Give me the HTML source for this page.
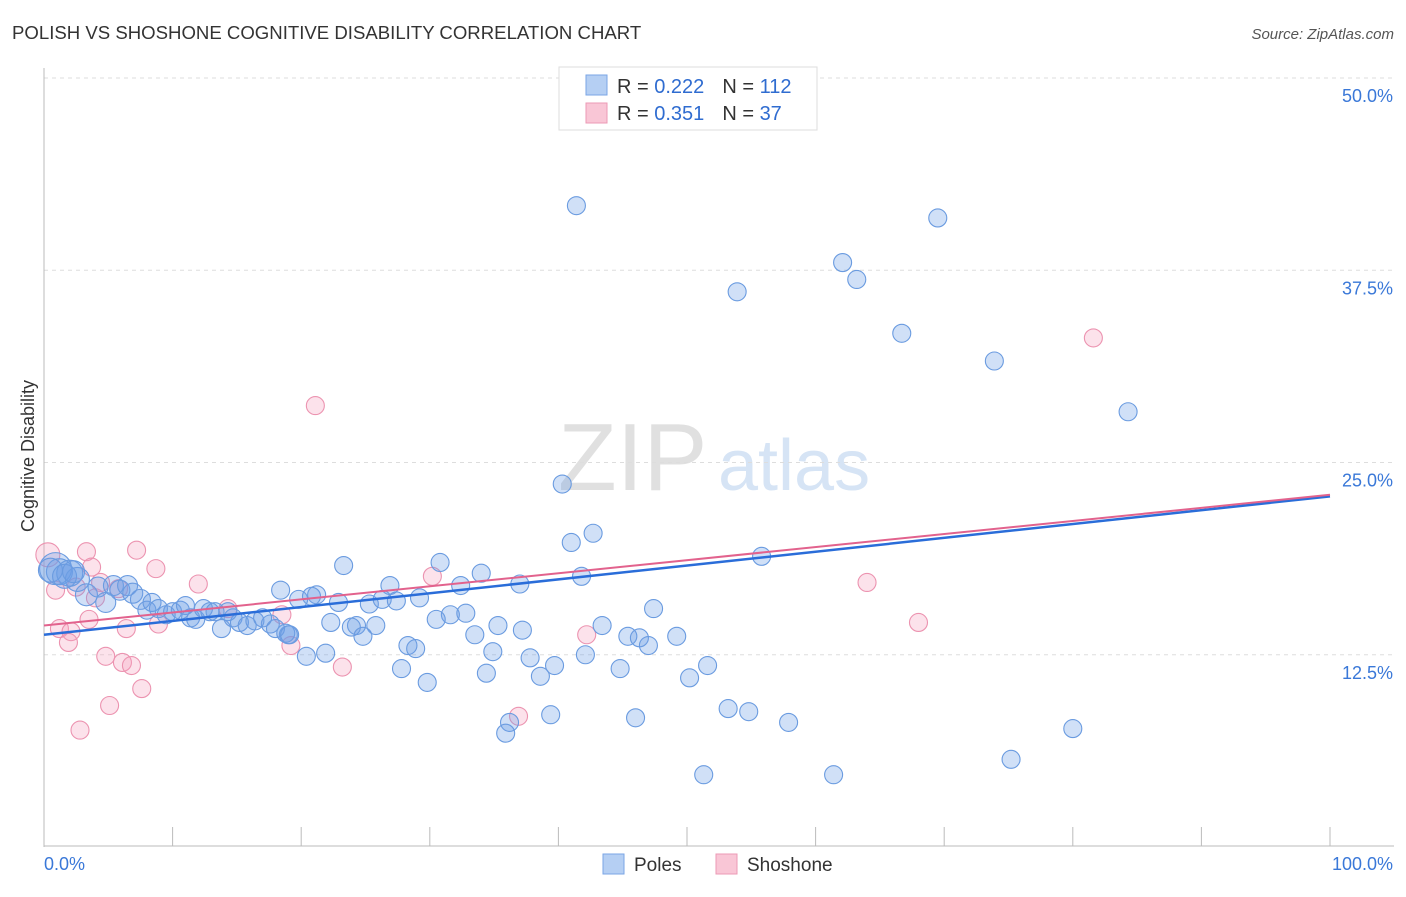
<!DOCTYPE html>
<html><head><meta charset="utf-8"><style>
body{margin:0;background:#fff;font-family:"Liberation Sans",sans-serif;}
svg text{font-family:"Liberation Sans",sans-serif;}
</style></head><body>
<svg id="chart" width="1406" height="892" xmlns="http://www.w3.org/2000/svg">
<text x="12" y="39" font-size="18.6" fill="#333">POLISH VS SHOSHONE COGNITIVE DISABILITY CORRELATION CHART</text>
<text x="1394" y="39" font-size="15" fill="#555" font-style="italic" text-anchor="end">Source: ZipAtlas.com</text>
<text x="558" y="490" font-size="96" fill="#e0e0e0" font-family="Liberation Serif">ZIP</text>
<text x="718" y="490" font-size="72" fill="#d6e4f5">atlas</text>
<text transform="translate(34,456) rotate(-90)" font-size="18" fill="#333" text-anchor="middle">Cognitive Disability</text>
<g id="grid"></g><g id="axes"></g><g id="marks"></g><g id="lines"></g>
<g>
<rect x="559" y="67" width="258" height="63" fill="#fff" stroke="#ddd"/>
<rect x="586" y="75" width="21" height="20" fill="#b5cff3" stroke="#7aa5e6"/>
<rect x="586" y="103" width="21" height="20" fill="#f9c6d6" stroke="#ec9ab5"/>
<text x="617" y="93" font-size="20" fill="#333">R = <tspan fill="#2f6cd0">0.222</tspan><tspan dx="18">N = </tspan><tspan fill="#2f6cd0">112</tspan></text>
<text x="617" y="120" font-size="20" fill="#333">R = <tspan fill="#2f6cd0">0.351</tspan><tspan dx="18">N = </tspan><tspan fill="#2f6cd0"> 37</tspan></text>
</g>
<g>
<rect x="603" y="854" width="21" height="20" fill="#b5cff3" stroke="#7aa5e6"/>
<text x="634" y="871" font-size="19" fill="#333">Poles</text>
<rect x="716" y="854" width="21" height="20" fill="#f9c6d6" stroke="#ec9ab5"/>
<text x="747" y="871" font-size="19" fill="#333">Shoshone</text>
</g>
</svg>
<script>
const yTicks=[12.5,25,37.5,50];
const yTickLabels=["12.5%","25.0%","37.5%","50.0%"];
const xTickCount=[0,10,20,30,40,50,60,70,80,90,100];
const xEndLabels=["0.0%","100.0%"];
const polesX=[41.4,69.5,53.9,62.1,63.2,66.7,73.9,84.3,40.3,41.0,42.7,55.8,23.3,30.8,41.8,34.0,37.0,32.4,26.9,18.4,21.2,19.8,20.8,22.9,25.3,26.3,27.4,29.2,47.4,32.8,31.6,30.5,43.4,35.3,37.2,22.3,24.3,23.9,25.8,33.5,24.8,45.4,46.3,47.0,49.2,19.0,28.3,28.9,21.9,20.4,34.9,37.8,42.1,39.7,27.8,34.4,38.6,44.8,51.6,50.2,29.8,53.2,54.8,57.9,39.4,46.0,80.0,36.2,35.9,51.3,61.4,75.2,0.9,1.2,2.0,2.6,3.3,4.2,4.8,5.4,5.9,6.5,6.9,7.5,8.0,8.4,8.9,9.5,10.0,10.6,11.0,11.4,11.8,12.4,12.9,13.3,13.8,14.3,14.7,15.2,15.8,16.4,17.0,17.6,18.0,18.8,19.1,0.5,1.6,2.3];
const polesY=[41.7,40.9,36.1,38.0,36.9,33.4,31.6,28.3,23.6,19.8,20.4,18.9,18.3,18.5,17.6,17.8,17.1,17.0,17.0,16.7,16.4,16.1,16.3,15.9,15.8,16.1,16.0,16.2,15.5,15.2,15.1,14.8,14.4,14.4,14.1,14.6,14.4,14.3,14.4,13.8,13.7,13.7,13.6,13.1,13.7,13.8,13.1,12.9,12.6,12.4,12.7,12.3,12.5,11.8,11.6,11.3,11.1,11.6,11.8,11.0,10.7,9.0,8.8,8.1,8.6,8.4,7.7,8.1,7.4,4.7,4.7,5.7,18.1,17.9,17.8,17.4,16.4,16.9,15.9,17.0,16.7,17.0,16.5,16.1,15.4,15.9,15.5,15.1,15.3,15.4,15.7,14.9,14.8,15.5,15.3,15.3,14.2,15.3,14.9,14.6,14.4,14.7,14.9,14.5,14.2,13.9,13.8,18.0,17.6,17.9];
const polesR=[9,9,9,9,9,9,9,9,9,9,9,9,9,9,9,9,9,9,9,9,9,9,9,9,9,9,9,9,9,9,9,9,9,9,9,9,9,9,9,9,9,9,9,9,9,9,9,9,9,9,9,9,9,9,9,9,9,9,9,9,9,9,9,9,9,9,9,9,9,9,9,9,16,13,13,12,11,10,10,10,10,10,10,10,9,9,9,9,9,9,9,9,9,9,9,9,9,9,9,9,9,9,9,9,9,9,9,12,12,11];
const shoX=[21.1,81.6,30.2,64.0,68.0,42.2,7.2,8.7,3.3,3.7,0.3,0.9,2.5,4.0,4.4,5.8,12.0,14.3,1.2,2.1,1.9,3.5,6.4,8.9,4.8,6.1,6.8,7.6,5.1,2.8,36.9,23.2,19.2,18.5];
const shoY=[28.7,33.1,17.6,17.2,14.6,13.8,19.3,18.1,19.2,18.2,19.0,16.7,16.9,16.2,17.2,16.8,17.1,15.5,14.2,14.0,13.3,14.8,14.2,14.5,12.4,12.0,11.8,10.3,9.2,7.6,8.5,11.7,13.1,15.1];
const trendPolesY=[13.8,22.8];
const trendShoY=[14.4,22.9];
const NS="http://www.w3.org/2000/svg";
const X=v=>44+v*12.86, Y=v=>847-v*15.38;
function mk(tag,attrs,parent){const e=document.createElementNS(NS,tag);for(const k in attrs)e.setAttribute(k,attrs[k]);parent.appendChild(e);return e;}
const grid=document.getElementById('grid'),axes=document.getElementById('axes'),marks=document.getElementById('marks'),lines=document.getElementById('lines');
yTicks.forEach((t,i)=>{
 const g=mk('line',{x1:44,x2:1394,y1:Y(t),y2:Y(t),stroke:'#ddd','stroke-dasharray':'4,4'},grid);
 
 
 const l=mk('text',{x:1393,y:Y(t)+24,'font-size':18,fill:'#3a78d8','text-anchor':'end'},axes);
 l.textContent=yTickLabels[i];
 
 
});
const ya=mk('line',{x1:44,x2:44,y1:68,y2:847,stroke:'#bbb'},axes);


const xa=mk('line',{x1:44,x2:1394,y1:846,y2:846,stroke:'#bbb'},axes);


xTickCount.forEach(t=>{
 const tk=mk('line',{x1:X(t),x2:X(t),y1:827,y2:846,stroke:'#bbb'},axes);
 
 
});
const xl0=mk('text',{x:44,y:870,'font-size':18,fill:'#3a78d8'},axes);xl0.textContent=xEndLabels[0];


const xl1=mk('text',{x:1393,y:870,'font-size':18,fill:'#3a78d8','text-anchor':'end'},axes);xl1.textContent=xEndLabels[1];


shoX.forEach((v,i)=>{
 const c=mk('circle',{cx:X(v),cy:Y(shoY[i]),r:i==10?12:9,fill:'rgba(245,160,190,0.3)',stroke:'#ec93b0','stroke-width':1.1},marks);
 
 
});
polesX.forEach((v,i)=>{
 const c=mk('circle',{cx:X(v),cy:Y(polesY[i]),r:polesR[i],fill:'rgba(110,160,230,0.32)',stroke:'#6a9be0','stroke-width':1.1},marks);
 
 
});
const tp=mk('line',{x1:X(0),y1:Y(trendPolesY[0]),x2:X(100),y2:Y(trendPolesY[1]),stroke:'#2a6dd9','stroke-width':2.5},lines);


const ts=mk('line',{x1:X(0),y1:Y(trendShoY[0]),x2:X(100),y2:Y(trendShoY[1]),stroke:'#e2628d','stroke-width':2},lines);


</script>
</body></html>
